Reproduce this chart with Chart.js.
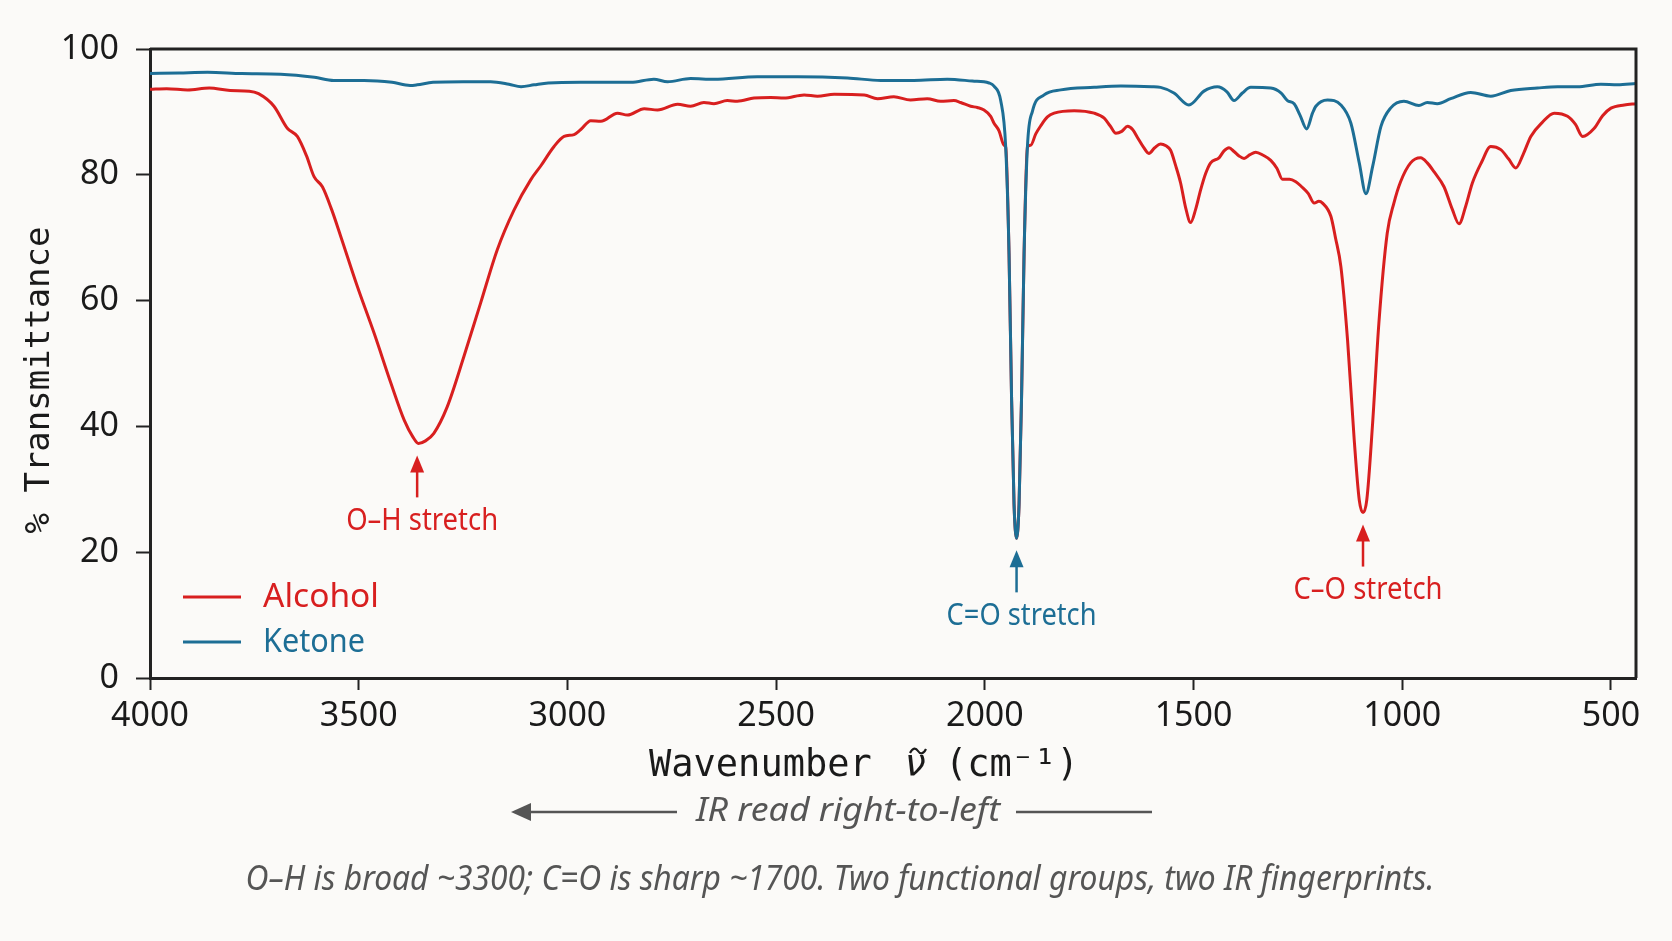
<!DOCTYPE html>
<html>
<head>
<meta charset="utf-8">
<title>IR spectra: alcohol vs ketone</title>
<script src="https://cdn.jsdelivr.net/npm/chart.js@4.4.1/dist/chart.umd.min.js"></script>
<style>
  html, body { margin: 0; padding: 0; background: #fbfaf8; }
  canvas { display: block; }
</style>
</head>
<body>
<canvas id="irChart" width="1672" height="941" style="width:1672px;height:941px"></canvas>
<script>
// axis ticks
const wavenumberTicks = [4000, 3500, 3000, 2500, 2000, 1500, 1000, 500];
const transmittanceTicks = [0, 20, 40, 60, 80, 100];

// alcohol spectrum (wavenumber cm-1, % transmittance)
const alcoholWavenumber = [
  4000, 3960, 3910, 3858, 3808, 3762, 3740, 3703, 3671, 3647,
  3625, 3607, 3587, 3565, 3543, 3503, 3463, 3423, 3391, 3370,
  3357, 3340, 3320, 3288, 3248, 3208, 3168, 3128, 3088, 3064,
  3032, 3008, 2984, 2968, 2944, 2920, 2880, 2856, 2816, 2784,
  2736, 2705, 2673, 2649, 2617, 2593, 2553, 2513, 2481, 2433,
  2401, 2361, 2289, 2257, 2218, 2178, 2138, 2106, 2074, 2058,
  2034, 2018, 2002, 1986, 1978, 1966, 1954, 1950, 1942, 1936,
  1930, 1924, 1918, 1912, 1906, 1898, 1890, 1878, 1866, 1850,
  1834, 1786, 1738, 1714, 1700, 1686, 1672, 1658, 1646, 1634,
  1620, 1607, 1593, 1579, 1566, 1555, 1543, 1531, 1519, 1507,
  1495, 1483, 1471, 1459, 1439, 1427, 1415, 1403, 1391, 1379,
  1365, 1351, 1333, 1315, 1300, 1287, 1270, 1255, 1241, 1225,
  1211, 1200, 1191, 1171, 1160, 1147, 1131, 1115, 1103, 1094,
  1085, 1071, 1056, 1036, 1020, 1004, 980, 956, 940, 924,
  900, 880, 864, 848, 832, 810, 788, 764, 745, 728,
  710, 692, 665, 636, 604, 585, 568, 540, 520, 500,
  468, 440
];
const alcoholT = [
  93.6, 93.7, 93.5, 93.8, 93.4, 93.3, 92.9, 90.9, 87.4, 86.1,
  83.0, 79.7, 78.1, 74.5, 70.2, 62.2, 54.8, 46.9, 41.0, 38.3,
  37.3, 37.7, 38.9, 43.1, 51.1, 59.6, 68.1, 74.4, 79.2, 81.4,
  84.5, 86.1, 86.4, 87.2, 88.6, 88.5, 89.8, 89.5, 90.5, 90.3,
  91.2, 90.9, 91.5, 91.3, 91.8, 91.7, 92.2, 92.3, 92.2, 92.7,
  92.5, 92.8, 92.7, 92.1, 92.4, 91.9, 92.1, 91.7, 91.8, 91.5,
  90.9, 90.7, 90.3, 89.3, 88.2, 87.0, 84.7, 84.4, 67.4, 44.7,
  27.6, 22.2, 27.6, 44.7, 67.4, 84.4, 84.7, 86.5, 87.8, 89.2,
  89.8, 90.2, 89.8, 89.0, 87.8, 86.6, 86.9, 87.7, 87.2, 85.9,
  84.4, 83.4, 84.3, 84.9, 84.6, 83.9, 81.5, 78.7, 74.8, 72.4,
  74.5, 77.6, 80.2, 81.9, 82.7, 83.8, 84.3, 83.7, 83.0, 82.6,
  83.2, 83.6, 83.1, 82.3, 81.0, 79.3, 79.3, 78.9, 78.1, 77.0,
  75.5, 75.8, 75.5, 73.4, 70.0, 65.4, 53.7, 37.8, 28.3, 26.3,
  28.3, 40.5, 56.4, 70.7, 75.5, 78.9, 81.9, 82.7, 81.9, 80.5,
  78.1, 74.5, 72.2, 75.0, 78.7, 82.0, 84.5, 84.0, 82.5, 81.1,
  83.3, 86.1, 88.3, 89.8, 89.3, 88.0, 86.1, 87.4, 89.4, 90.6,
  91.1, 91.3
];

// ketone spectrum
const ketoneWavenumber = [
  4000, 3930, 3862, 3780, 3687, 3606, 3560, 3487, 3420, 3377,
  3360, 3322, 3250, 3184, 3140, 3111, 3080, 3046, 2968, 2927,
  2848, 2793, 2760, 2705, 2649, 2545, 2449, 2329, 2249, 2170,
  2090, 2030, 1990, 1978, 1962, 1950, 1942, 1936, 1930, 1924,
  1918, 1912, 1906, 1898, 1886, 1858, 1818, 1738, 1674, 1600,
  1579, 1547, 1511, 1475, 1443, 1420, 1403, 1383, 1363, 1315,
  1290, 1275, 1259, 1245, 1229, 1215, 1207, 1179, 1147, 1123,
  1103, 1087, 1071, 1051, 1028, 996, 960, 940, 916, 884,
  836, 788, 740, 676, 628, 580, 524, 484, 440
];
const ketoneT = [
  96.1, 96.2, 96.3, 96.1, 96.0, 95.5, 95.0, 95.0, 94.7, 94.2,
  94.3, 94.7, 94.8, 94.8, 94.4, 94.0, 94.3, 94.6, 94.7, 94.7,
  94.7, 95.2, 94.8, 95.3, 95.2, 95.6, 95.6, 95.4, 95.0, 95.0,
  95.2, 94.9, 94.6, 94.1, 91.8, 84.4, 67.4, 44.7, 27.6, 22.2,
  27.6, 44.7, 67.4, 84.4, 90.1, 92.7, 93.5, 93.9, 94.1, 94.0,
  93.9, 93.0, 91.1, 93.3, 94.0, 93.2, 91.8, 93.0, 93.9, 93.8,
  93.0, 91.8, 91.3, 89.5, 87.3, 89.8, 90.9, 91.9, 91.1, 88.2,
  81.9, 77.0, 81.3, 87.7, 90.6, 91.7, 91.0, 91.5, 91.3, 92.1,
  93.1, 92.5, 93.4, 93.8, 94.0, 94.0, 94.4, 94.3, 94.5
];

// peak callouts
const peakLabels = ['O\u2013H stretch', 'C=O stretch', 'C\u2013O stretch'];
const peakWavenumber = [3360, 1924, 1094];
const peakT = [37.3, 22.2, 26.3];
const peakSeries = ['alcohol', 'ketone', 'alcohol'];

const RED = '#d81f1f';
const BLUE = '#1d6e95';
const INK = '#1a1a1a';
const GREY = '#555555';

function toPoints(xs, ys) {
  return xs.map((x, i) => ({ x: x, y: ys[i] }));
}

// draws text squeezed horizontally so it fits a measured width
function fitText(ctx, text, x, y, width) {
  const w0 = ctx.measureText(text).width;
  const sx = width ? width / w0 : 1;
  ctx.save();
  ctx.translate(x, y);
  ctx.scale(sx, 1);
  ctx.fillText(text, 0, 0);
  ctx.restore();
}

function upArrow(ctx, x, tipY, baseY, color) {
  ctx.save();
  ctx.strokeStyle = color;
  ctx.fillStyle = color;
  ctx.lineWidth = 2.5;
  ctx.beginPath();
  ctx.moveTo(x, baseY);
  ctx.lineTo(x, tipY + 14);
  ctx.stroke();
  ctx.beginPath();
  ctx.moveTo(x, tipY);
  ctx.lineTo(x - 7, tipY + 17);
  ctx.lineTo(x + 7, tipY + 17);
  ctx.closePath();
  ctx.fill();
  ctx.restore();
}

const backgroundPlugin = {
  id: 'background',
  beforeDraw(chart) {
    const ctx = chart.ctx;
    ctx.save();
    ctx.fillStyle = '#fbfaf8';
    ctx.fillRect(0, 0, chart.width, chart.height);
    ctx.restore();
  }
};

const extrasPlugin = {
  id: 'extras',
  afterDraw(chart) {
    const ctx = chart.ctx;
    const a = chart.chartArea;
    const xs = chart.scales.x;
    const ys = chart.scales.y;

    // top and right of the frame
    ctx.save();
    ctx.strokeStyle = '#222';
    ctx.lineWidth = 3;
    ctx.beginPath();
    ctx.moveTo(a.left, a.top);
    ctx.lineTo(a.right, a.top);
    ctx.lineTo(a.right, a.bottom);
    ctx.stroke();
    ctx.restore();

    // peak arrows and labels
    ctx.save();
    ctx.font = '30px "Noto Sans"';
    ctx.textAlign = 'center';
    ctx.textBaseline = 'middle';
    const widths = [152, 150, 149];
    peakLabels.forEach((label, i) => {
      const color = peakSeries[i] === 'alcohol' ? RED : BLUE;
      const px = xs.getPixelForValue(peakWavenumber[i]);
      const tip = ys.getPixelForValue(peakT[i]) + 12;
      upArrow(ctx, px, tip, tip + 42, color);
      ctx.fillStyle = color;
      fitText(ctx, label, px + 5, tip + 66, widths[i]);
    });
    ctx.restore();

    // legend
    ctx.save();
    ctx.font = '33px "Noto Sans"';
    ctx.textAlign = 'left';
    ctx.textBaseline = 'middle';
    [['Alcohol', RED, 597, 116], ['Ketone', BLUE, 642, 102]].forEach(([name, color, y, w]) => {
      ctx.strokeStyle = color;
      ctx.lineWidth = 3;
      ctx.beginPath();
      ctx.moveTo(183, y);
      ctx.lineTo(241, y);
      ctx.stroke();
      ctx.fillStyle = color;
      fitText(ctx, name, 263, y + 1, w);
    });
    ctx.restore();

    // x axis title: mono text, italic nu with a tilde over it
    ctx.save();
    ctx.fillStyle = INK;
    ctx.strokeStyle = INK;
    ctx.textBaseline = 'alphabetic';
    ctx.textAlign = 'left';
    ctx.font = '37px "DejaVu Sans Mono"';
    ctx.fillText('Wavenumber', 649, 776);
    ctx.fillText('(cm\u207b\u00b9)', 945, 776);
    ctx.font = 'italic 37px "DejaVu Sans"';
    ctx.fillText('\u03bd', 905, 776);
    const tx = 918, ty = 751;
    ctx.lineWidth = 2.2;
    ctx.beginPath();
    ctx.moveTo(tx - 8, ty + 2);
    ctx.bezierCurveTo(tx - 5, ty - 4, tx - 2, ty - 3, tx, ty);
    ctx.bezierCurveTo(tx + 2, ty + 3, tx + 5, ty + 4, tx + 8, ty - 2);
    ctx.stroke();
    ctx.restore();

    // y axis title
    ctx.save();
    ctx.fillStyle = INK;
    ctx.textAlign = 'center';
    ctx.textBaseline = 'middle';
    ctx.font = '34px "DejaVu Sans Mono"';
    ctx.translate(40, 380);
    ctx.rotate(-Math.PI / 2);
    fitText(ctx, '% Transmittance', 0, 0, 307);
    ctx.restore();

    // reading direction hint
    ctx.save();
    ctx.strokeStyle = GREY;
    ctx.fillStyle = GREY;
    ctx.lineWidth = 2.5;
    ctx.beginPath();
    ctx.moveTo(526, 812);
    ctx.lineTo(677, 812);
    ctx.moveTo(1016, 812);
    ctx.lineTo(1152, 812);
    ctx.stroke();
    ctx.beginPath();
    ctx.moveTo(511, 812);
    ctx.lineTo(531, 803);
    ctx.lineTo(531, 821);
    ctx.closePath();
    ctx.fill();
    ctx.font = 'italic 33px "Noto Sans"';
    ctx.textAlign = 'center';
    ctx.textBaseline = 'middle';
    fitText(ctx, 'IR read right-to-left', 848, 812, 304);

    ctx.font = 'italic 34px "Noto Sans"';
    fitText(ctx, 'O\u2013H is broad ~3300; C=O is sharp ~1700. Two functional groups, two IR fingerprints.', 840, 880, 1189);
    ctx.restore();
  }
};

const tickFont = { family: 'Noto Sans', size: 34 };

new Chart(document.getElementById('irChart'), {
  type: 'line',
  data: {
    datasets: [
      {
        label: 'Alcohol',
        data: toPoints(alcoholWavenumber, alcoholT),
        borderColor: RED,
        borderWidth: 3,
        pointRadius: 0,
        cubicInterpolationMode: 'monotone',
        order: 2
      },
      {
        label: 'Ketone',
        data: toPoints(ketoneWavenumber, ketoneT),
        borderColor: BLUE,
        borderWidth: 3,
        pointRadius: 0,
        cubicInterpolationMode: 'monotone',
        order: 1
      }
    ]
  },
  options: {
    responsive: false,
    devicePixelRatio: 1,
    animation: false,
    layout: { padding: { top: 49, right: 36, left: 0, bottom: 0 } },
    plugins: {
      legend: { display: false },
      tooltip: { enabled: false }
    },
    scales: {
      x: {
        type: 'linear',
        reverse: true,
        min: 440,
        max: 4000,
        afterBuildTicks: s => { s.ticks = wavenumberTicks.map(v => ({ value: v })); },
        afterFit: s => { s.height = 941 - 678; },
        ticks: {
          font: tickFont,
          color: INK,
          padding: 6,
          maxRotation: 0,
          autoSkip: false,
          callback: v => String(v)
        },
        grid: { drawOnChartArea: false, drawTicks: true, tickLength: 12, tickWidth: 2, tickColor: '#222' },
        border: { display: true, color: '#222', width: 3 }
      },
      y: {
        min: 0,
        max: 100,
        afterBuildTicks: s => { s.ticks = transmittanceTicks.map(v => ({ value: v })); },
        afterFit: s => { s.width = 150; },
        ticks: {
          font: tickFont,
          color: INK,
          padding: 17,
          callback: v => String(v)
        },
        grid: { drawOnChartArea: false, drawTicks: true, tickLength: 14, tickWidth: 2, tickColor: '#222' },
        border: { display: true, color: '#222', width: 3 }
      }
    }
  },
  plugins: [backgroundPlugin, extrasPlugin]
});
</script>
</body>
</html>
